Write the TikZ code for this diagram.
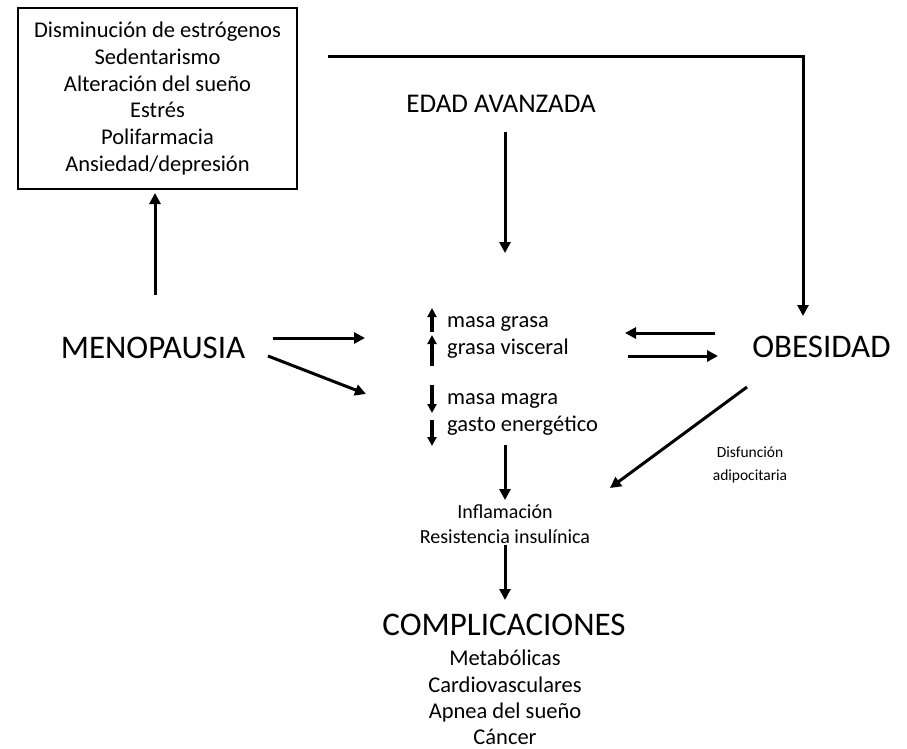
\documentclass[tikz,border=0pt]{standalone}
\usepackage{fontspec}
\setmainfont{Carlito}
\usetikzlibrary{arrows.meta}
\tikzset{
  flecha/.style={line width=3pt, -{Triangle[length=11pt,width=11pt]}},
  flechita/.style={line width=3.3pt, -{Triangle[length=9pt,width=9pt]}},
  titulo/.style={font=\fontsize{33}{40}\selectfont, inner sep=0pt, anchor=base},
  lista/.style={font=\fontsize{22.5}{27}\selectfont, align=center, inner sep=0pt},
}

\begin{document}
\begin{tikzpicture}[x=1pt, y=-1pt]
            \useasboundingbox (0,0) rectangle (907,749);

            % Factores
            \node[draw, line width=2.6pt, minimum width=279pt, minimum height=181pt, lista,
                  font=\fontsize{22.5}{26.8}\selectfont] (factores) at (157.5,98.5)
                {Disminución de estrógenos \\ Sedentarismo \\ Alteración del sueño \\ Estrés \\ Polifarmacia \\ Ansiedad/depresión};

            % Titulos
            \node[titulo, font=\fontsize{27}{32}\selectfont] (edad) at (501,113) {EDAD AVANZADA};
            \node[titulo] (menopausia) at (153,358) {MENOPAUSIA};
            \node[titulo] (obesidad) at (821.5,357) {OBESIDAD};
            \node[titulo] (complicaciones) at (504,635) {COMPLICACIONES};

            % Cambios
            \node[lista, anchor=base west] (grasa) at (447,327) {masa grasa};
            \node[lista, anchor=base west] (visceral) at (447,354) {grasa visceral};
            \node[lista, anchor=base west] (magra) at (447,404) {masa magra};
            \node[lista, anchor=base west] (gasto) at (447,431) {gasto energético};

            \node[lista, font=\fontsize{20}{25}\selectfont] (inflamacion) at (505,524) {Inflamación \\ Resistencia insulínica};
            \node[lista, font=\fontsize{15.5}{23}\selectfont] (disfuncion) at (750,465) {Disfunción \\ adipocitaria};
            \node[lista, font=\fontsize{22.5}{26.3}\selectfont, anchor=north] (tipos) at (505,650)
                {Metabólicas \\ Cardiovasculares \\ Apnea del sueño \\ Cáncer};

            % Extremos
            \coordinate (menoA) at (155,295);
            \coordinate (factA) at (155,193);
            \coordinate (lineaA) at (328,57);
            \coordinate (lineaB) at (803,57);
            \coordinate (obesA) at (803,316);
            \coordinate (edadA) at (505,132);
            \coordinate (edadB) at (505,253);
            \coordinate (menoB) at (273,338);
            \coordinate (cambA) at (365,338);
            \coordinate (menoC) at (268,356);
            \coordinate (cambB) at (366,394);
            \coordinate (obesB) at (715,333);
            \coordinate (cambC) at (625,333);
            \coordinate (cambD) at (628,356);
            \coordinate (obesC) at (718,356);
            \coordinate (obesD) at (747,387);
            \coordinate (inflA) at (610,488);
            \coordinate (cambE) at (505,445);
            \coordinate (inflB) at (505,500);
            \coordinate (inflC) at (505,545);
            \coordinate (compA) at (505,600);

            % Flechas
            \draw[flecha] (menoA) -- (factA);
            \draw[flecha] (lineaA) -- (lineaB) -- (obesA);
            \draw[flecha] (edadA) -- (edadB);
            \draw[flecha] (menoB) -- (cambA);
            \draw[flecha] (menoC) -- (cambB);
            \draw[flecha] (obesB) -- (cambC);
            \draw[flecha] (cambD) -- (obesC);
            \draw[flecha] (obesD) -- (inflA);
            \draw[flecha] (cambE) -- (inflB);
            \draw[flecha] (inflC) -- (compA);

            % Subidas y bajadas
            \draw[flechita] ([xshift=-15pt]grasa.base west) ++(0,5) -- ++(0,-24);
            \draw[flechita] ([xshift=-15pt]visceral.base west) ++(0,12) -- ++(0,-31);
            \draw[flechita] ([xshift=-15pt]magra.base west) ++(0,-19) -- ++(0,28);
            \draw[flechita] ([xshift=-15pt]gasto.base west) ++(0,-11) -- ++(0,26);
        \end{tikzpicture}
\end{document}
